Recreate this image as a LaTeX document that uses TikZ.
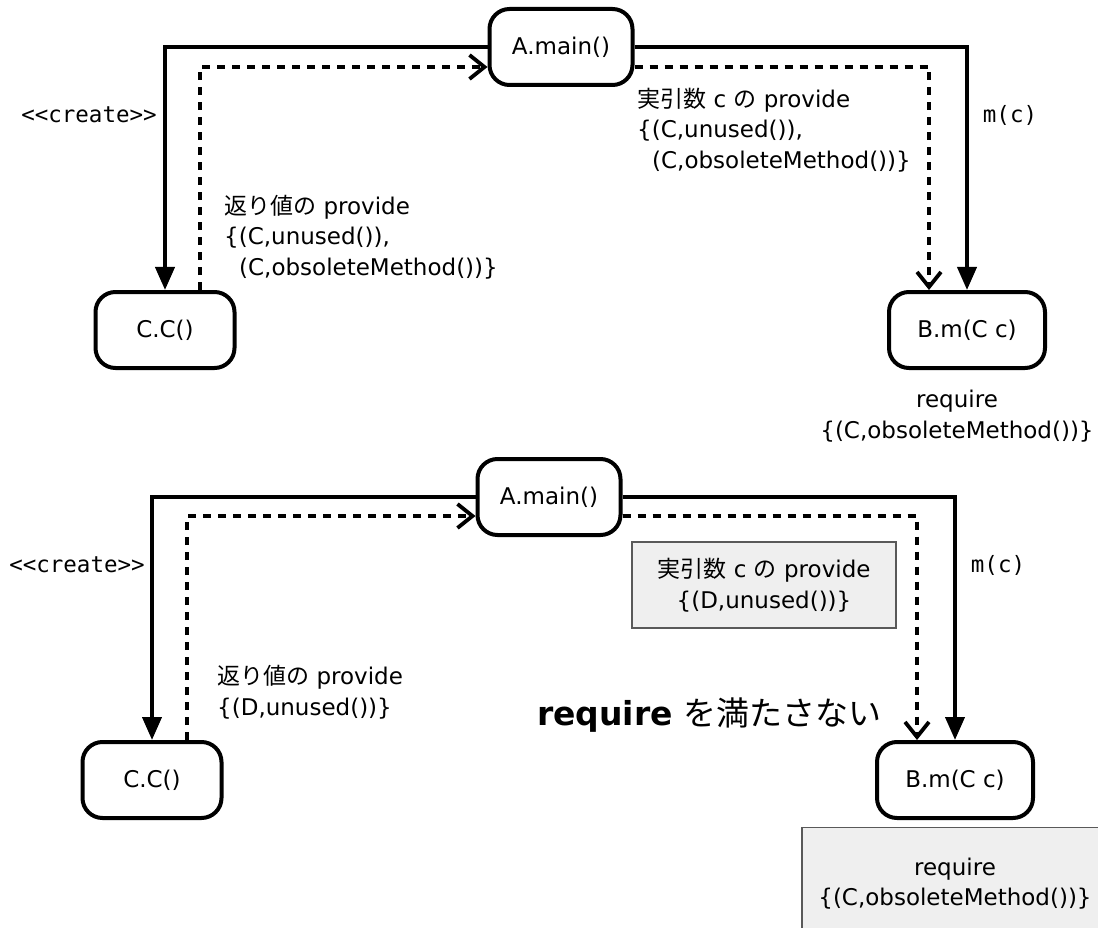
\documentclass[tikz,border=0pt]{standalone}
\usepackage{fontspec}
\setmainfont{DejaVu Sans}
\setmonofont{DejaVu Sans Mono}
\newfontfamily\jpfont{Noto Sans CJK JP}
\usetikzlibrary{positioning}
\usetikzlibrary{arrows.meta}
\definecolor{notegray}{HTML}{EFEFEF}
\newcommand{\ja}[1]{{\jpfont #1}}

\begin{document}
\begin{tikzpicture}[x=1pt,y=-1pt,
        font=\fontsize{23}{30.5}\selectfont,
        method/.style={draw,line width=4pt,rounded corners=20pt,minimum height=76pt,inner sep=0pt},
        call/.style={line width=4pt,-{Triangle[length=23pt,width=19pt]}},
        flow/.style={line width=3.8pt,dash pattern=on 8pt off 7pt,-{Straight Barb[length=15pt,width=24pt]}},
        note/.style={align=left,inner sep=0pt},
        mono/.style={font=\ttfamily\fontsize{22.5}{30}\selectfont},
        graybox/.style={draw=black!65,fill=notegray,line width=1.2pt,align=center,inner sep=0pt}]
        \useasboundingbox (0,0) rectangle (1098,928);

        \node[method,minimum width=143pt] (amain) at (561,47) {A.main()};
        \node[method,minimum width=139pt] (cc) at (165,330) {C.C()};
        \node[method,minimum width=156pt] (bm) at (967,330) {B.m(C c)};
        \draw[call] (amain.west) -| (cc.north);
        \draw[call] (amain.east) -| (bm.north);
        \draw[flow] ([xshift=35pt]cc.north) |- ([yshift=-20pt]amain.west);
        \draw[flow] ([yshift=-20pt]amain.east) -| ([xshift=-38pt]bm.north);
        \node[mono] (create) at (89,115) {<{}<create>{}>};
        \node[mono] (mc) at (1010,115) {m(c)};
        \node[note,anchor=west] (argprov) at (637,130) {\ja{実引数} c \ja{の} provide\\\{(C,unused()),\\\hspace*{15pt}(C,obsoleteMethod())\}};
        \node[note,anchor=west] (retprov) at (224,237) {\ja{返り値の} provide\\\{(C,unused()),\\\hspace*{15pt}(C,obsoleteMethod())\}};
        \node[note,align=center,below=20pt of bm,xshift=-10pt] (req) {require\\\{(C,obsoleteMethod())\}};

        \node[method,minimum width=143pt] (amain2) at (549,497) {A.main()};
        \node[method,minimum width=139pt] (cc2) at (152,780) {C.C()};
        \node[method,minimum width=156pt] (bm2) at (955,780) {B.m(C c)};
        \draw[call] (amain2.west) -| (cc2.north);
        \draw[call] (amain2.east) -| (bm2.north);
        \draw[flow] ([xshift=35pt]cc2.north) |- ([yshift=-19pt]amain2.west);
        \draw[flow] ([yshift=-19pt]amain2.east) -| ([xshift=-38pt]bm2.north);
        \node[mono] (create2) at (77,565) {<{}<create>{}>};
        \node[mono] (mc2) at (998,565) {m(c)};
        \node[graybox,minimum width=264pt,minimum height=86pt] (argprov2) at (764,585) {\ja{実引数} c \ja{の} provide\\\{(D,unused())\}};
        \node[note,anchor=west] (retprov2) at (217,692) {\ja{返り値の} provide\\\{(D,unused())\}};
        \node[note,anchor=west,font=\fontsize{33}{38}\selectfont] (fail) at (537,715) {\textbf{require} \ja{を満たさない}};
        \node[graybox,minimum width=306pt,minimum height=112pt,below=7pt of bm2] (req2) {require\\\{(C,obsoleteMethod())\}};
\end{tikzpicture}
\end{document}
